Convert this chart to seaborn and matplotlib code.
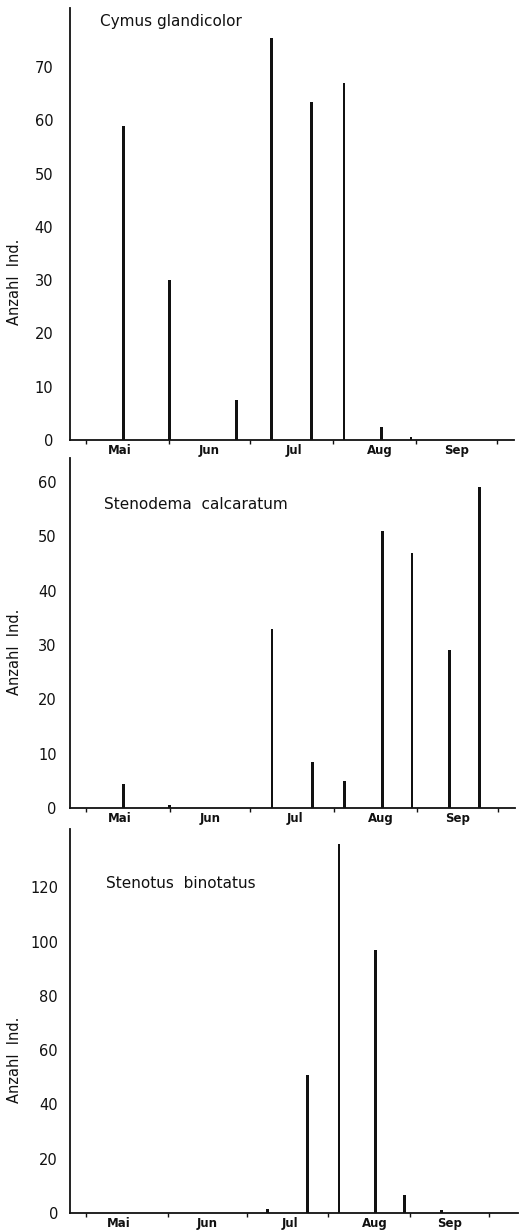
import numpy as np
import pandas as pd
import matplotlib
matplotlib.use("Agg")
import matplotlib.pyplot as plt
import seaborn as sns
from matplotlib.ticker import FixedLocator, NullFormatter, FixedFormatter

sns.set_theme(style="ticks")
plt.rcParams["font.family"] = ["DejaVu Sans"]

# Sampling dates (month-day) shared by all three species
sample_dates = ["05-15", "06-01", "06-26", "07-09", "07-24",
                "08-05", "08-19", "08-30", "09-13", "09-24"]

# Individuals caught per sampling date
cymus_glandicolor = [59, 30, 7.5, 75.5, 63.5, 67, 2.4, 0.5, 0, 0]
stenodema_calcaratum = [4.5, 0.6, 0, 33, 8.5, 5, 51, 47, 29, 59]
stenotus_binotatus = [0, 0, 0, 1.5, 51, 136, 97, 6.5, 1, 0]

species_names = ["Cymus glandicolor", "Stenodema  calcaratum", "Stenotus  binotatus"]

# Month boundaries and month labels of the x axis
month_starts = ["05-01", "06-01", "07-01", "08-01", "09-01", "10-01"]
month_labels = ["Mai", "Jun", "Jul", "Aug", "Sep"]

y_label = "Anzahl  Ind."


def day_of_year(md):
    return pd.to_datetime(["1981-" + d for d in md]).dayofyear.to_numpy()


days = day_of_year(sample_dates)
bounds = day_of_year(month_starts)
# month names sit near the middle of each month, nudged as lettered
label_days = (bounds[:-1] + bounds[1:]) / 2 + np.array([-3, 0, 1, 2, 0])

df = pd.DataFrame({
    "day": np.tile(days, 3),
    "count": np.concatenate([cymus_glandicolor, stenodema_calcaratum, stenotus_binotatus]),
    "species": np.repeat(species_names, len(days)),
})

W, H = 519, 1230
fig = plt.figure(figsize=(W / 100, H / 100), dpi=100)

# pixel boxes (left, right, top, bottom), x-limits, y-limits, y-ticks, label pad
panels = [
    dict(box=(70, 514, 8, 440), xlim=(115.04, 280.3), ylim=(0, 81.1),
         yticks=np.arange(0, 71, 10), pad=12, title_xy=(0.067, 0.968), ylab_y=0.366),
    dict(box=(70, 515, 458, 808), xlim=(115.04, 280.3), ylim=(0, 64.4),
         yticks=np.arange(0, 61, 10), pad=9.5, title_xy=(0.077, 0.866), ylab_y=0.446),
    dict(box=(70, 518, 829, 1213), xlim=(114.93, 285.0), ylim=(0, 141.5),
         yticks=np.arange(0, 121, 20), pad=8.6, title_xy=(0.080, 0.857), ylab_y=0.40),
]

bar_days = 1.0
width = bar_days / np.diff(np.sort(days)).min()

for name, p in zip(species_names, panels):
    l, r, t, b = p["box"]
    ax = fig.add_axes([l / W, 1 - b / H, (r - l) / W, (b - t) / H])
    sub = df[df["species"] == name]
    sns.barplot(data=sub, x="day", y="count", native_scale=True, width=width,
                color="#111111", saturation=1, linewidth=0, errorbar=None, ax=ax)
    ax.set_xlim(*p["xlim"])
    ax.set_ylim(*p["ylim"])
    sns.despine(ax=ax)
    for s in ("left", "bottom"):
        ax.spines[s].set_linewidth(1.3)
        ax.spines[s].set_color("#111111")

    ax.set_yticks(p["yticks"])
    ax.set_yticklabels([str(v) for v in p["yticks"]], fontsize=10.5, color="#111111")
    ax.tick_params(axis="y", length=0, pad=p["pad"])

    ax.xaxis.set_major_locator(FixedLocator(bounds))
    ax.xaxis.set_major_formatter(NullFormatter())
    ax.xaxis.set_minor_locator(FixedLocator(label_days))
    ax.xaxis.set_minor_formatter(FixedFormatter(month_labels))
    ax.tick_params(axis="x", which="major", length=3, width=1, direction="out",
                   color="#111111")
    ax.tick_params(axis="x", which="minor", length=0, pad=3, labelsize=8.5)
    for lab in ax.xaxis.get_minorticklabels():
        lab.set_fontweight("bold")
        lab.set_color("#111111")

    ax.set_xlabel("")
    ax.set_ylabel(y_label, fontsize=10.5, color="#111111")
    ax.yaxis.set_label_coords(-0.108, p["ylab_y"])

    ax.text(*p["title_xy"], name, transform=ax.transAxes, fontsize=11,
            va="center", ha="left", color="#111111")
    ax.set_facecolor("white")

fig.savefig("out.png", dpi=100, facecolor="white")
